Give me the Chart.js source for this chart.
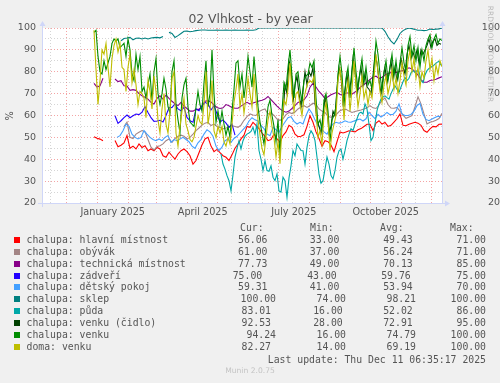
<!DOCTYPE html>
<html><head><meta charset="utf-8">
<script src="https://cdn.jsdelivr.net/npm/chart.js@4.4.1/dist/chart.umd.min.js"></script>
<style>
html,body{margin:0;padding:0;background:#F0F0F0;}
#wrap{position:relative;width:500px;height:383px;overflow:hidden;background:#F0F0F0;}
canvas{position:absolute;left:0;top:0;}
.m{position:absolute;white-space:pre;font-family:"DejaVu Sans Mono",monospace;font-size:9.8px;line-height:12px;height:12px;color:#555;}
.s{position:absolute;white-space:pre;font-family:"DejaVu Sans",sans-serif;color:#555;}
.sq{position:absolute;width:6px;height:6px;}
</style></head>
<body><div id="wrap"><canvas id="c" width="500" height="383"></canvas></div>
<script>
// ---------------- DATA (x = days since graph start, 400 days ending Thu Dec 11 2025 06:35:17) ----------------
const seriesNames = ["chalupa: hlavní místnost","chalupa: obývák","chalupa: technická místnost","chalupa: zádveří","chalupa: dětský pokoj","chalupa: sklep","chalupa: půda","chalupa: venku (čidlo)","chalupa: venku","doma: venku"];
const seriesColors = ["#FF0000","#A38585","#880088","#2200FF","#44A0FF","#008080","#00A8A8","#004000","#008C00","#BEBE00"];

const hlavni = [50.3,49.6,49.2,48.5,null,null,null,48.6,45.7,46.4,47.5,50.8,45,46,44.7,47,45.4,46.2,43.9,44.7,43.9,45.4,44.7,41.6,40.9,43.2,41.6,40.1,42.4,43.9,44.7,43.5,41.6,37.8,39.4,43,46.5,49.3,50,46,43.5,44.5,43,41.6,40.9,39.4,42,45,47,49.3,51,55,54.6,56.9,55.5,54,52,50.5,48.5,49,51.5,49.3,47.7,50.8,52.5,55.5,54.6,51.5,50.3,50.5,51.2,55,59.9,56.9,52.5,49.5,46,48.5,48,46.5,43.5,48,52.5,52,52.5,53,52.8,52.5,53.5,54,55,56,56,53.1,56.5,57.6,56.1,56.8,55,55.5,57,58.5,60.7,55.5,55.3,56,56.5,56.9,56.5,55.5,53.1,52.3,53.9,55,54.8,56,56.06];
const obyvak = [55,57,50,49.5,51.5,52.3,53.1,52.5,49,45.5,44.2,45.8,46.2,47,48.5,49.3,47.7,49.5,50.5,51,50.5,49.3,50,51.5,53.1,54.3,55.6,56.5,56.9,55.4,56.1,55,54.5,53.9,54.3,54.6,55.4,55,54.6,55.6,57.8,59.5,60.7,60.2,60,61.8,62.5,63,60.7,61.2,60,58.4,57.8,58.5,60.4,61.4,60.9,61.6,63,63.9,64.5,63.7,64.6,65.6,65,63,62,61.4,59.5,59.2,59.8,60.8,62.2,62.7,62.8,62,61.4,61.8,62.2,62.5,63,63.5,64.5,63.5,63.2,64.8,67,68,65,63.4,63.3,63.7,62,60.2,58.7,59.3,59.9,64,68.5,65.3,60.7,56.1,56.9,57.3,57.8,58.6,61];
const technicka = [74.7,73,73.6,77,null,null,null,76.7,75.5,75.9,73.6,73.5,71.5,71.8,71.5,70,69,68.3,67.5,66,65.3,67.8,69,67.5,69.3,67.8,66.5,65.3,64.5,66,64.2,63.2,62,62,62.8,62.8,64.2,66.5,66.8,66.2,64.8,63.7,63.2,63.5,65,64.5,63.7,63.3,63.3,64.3,65.2,66,65.3,65.7,66.2,66.6,67,67.5,68.7,67.3,65.8,64.3,63,62,61.5,62,63.2,64.5,66,66.5,67.2,69,72.9,74.8,73,71,69.5,67.8,68.6,69.5,70.1,70.6,69.6,69.3,70.3,70.3,69.8,70.7,71.8,73.2,74.2,75.2,76.5,77.6,78,76.9,77.5,78.5,79.2,79.6,79.7,79.7,80.2,80.6,81,81.8,81.3,80.1,78.5,76.3,75.2,75.2,76,76.2,76.6,77.2,77.73];
const zadveri = [59.9,56.4,57.6,59,60.2,59,59.9,60.7,60.4,61.5,64,61.4,59,57.3,57.5,57.8,57,60,63.5,63.7,65.3,63,62.2,63.7,59.1,57.6,56.9,63,62.2,64.5,66,65.3,62.5,64.5,60.7,57,58,56.5,54.6,56.1,51];
const detsky = [50,50.8,53,56.1,55,51.5,50,49.3,50,53.1,51.5,50,49,48.5,49.3,48.5,50,50.8,47.7,49,48.5,49.3,50,49,48,46,45,47.5,49,51.5,53.5,52.5,50.5,46,44,45.5,48.5,49.3,47.7,49.5,50.5,52,53.5,55,57.5,59,58,57.5,55.5,54,51.5,50.8,54.6,53.5,52.3,55,57,59,59.5,57.3,56.1,56.9,56.1,60,63,61,58,55.5,54,52.5,51.5,54,56.1,56.9,56.5,56.8,57.6,57,56.9,57.5,58,58.4,57.5,58.5,61.5,60,58.6,60.5,59.3,60.2,61.4,60.4,60.5,62,65.3,60.7,60,60,60.5,62,64.5,65.5,60.5,58.2,57.6,58.4,59.1,59.7,59.3];
const sklep = [94.2,95.2,95.4,95.7,94.6,95.3,95.4,95,95.4,95,95.4,95.6,95.7,95.5,96.1,null,98,97.5,95.7,96.5,97.5,98.5,98.6,98.3,98.5,98.8,99,99.1,99.1,99,99,99,99.1,99,99,99.1,99,99,99.1,99,99,99,99.1,99,99,99.2,
100,100,100,100,100,100,100,100,100,100,100,100,100,100,100,100,100,100,100,100,100,100,100,100,100,100,100,100,100,100,100,100,100,100,100,100,100,100,100,100,100,100,
98.5,96,94,92.7,94.8,97.5,98.8,99.5,100,99.7,99.3,99,99,98.8,99,99.5,99.3,99.5,99.6,100];
const puda = [42.4,37.8,35.5,32.5,30.2,25.6,33,41,45,48.5,44.7,48.5,50.5,51.5,52,52.7,54.6,51.5,56.1,44,40,34.8,39.4,34.8,34.5,37,31.8,30.2,33.3,25.5,25,31.8,30.2,22.6,31.5,37,43.9,41.6,47,45.5,44,43.9,37.8,45.4,50.7,53,51.5,48.5,40.9,33.3,29,30.2,35.5,41,37.8,32.5,31,34.8,40.9,43.9,44.7,40,43.9,48.5,51.5,54,53.1,56.1,58.5,61,61.5,60.7,65.3,63,56,48.5,50,56.1,62.2,65.3,67.5,68.5,69,68.2,67.5,70,72,73.6,72,70.6,73,75.4,77.4,76,77,79.5,80.5,79.7,80.5,80,76,75,78.5,80.5,81.5,82.2,82.6,83.5,84.3,84.8,83];
const venkuCidlo = [60,74,70,85,82,66,74,78,70,64,72,80,74,80,78,82,66,58,55,52,60,68,64,52,55,62,60,72,82,78,66,72,79,70,76,86,80,70,77,82,74,79,73,72,70,78,88,84,76,70,77,82,75,79,85,77,82,76,80,86,82,79,88,92,86,89,86,90,84,90,88,90,92,95,91,94,95,92,93,92.53];
const venku = [98,99,87,80,79,85,81,84,87,93,95,94,95,91,92,93,87,95,90,79,76,88,81,87,71,73,68,74,79,67,80,86,70,65,70,77,72,64,61,80,85,65,58,52,68,74,77,64,57,56,55,64,71,65,62,75,85,64,
70,90,70,57,62,56,62,56,51,55,50,62,72,84,85,73,79,68,76,87,80,73,87,76,64,57,52,47,55,64,67,60,55,48,58,42,62,75,72,82,90,78,68,79,80,72,66,76,78,79,84,82,85,68,56,58,53,
67,70,62,48,58,60,64,79,87,79,64,77,82,68,80,91,80,72,80,86,75,82,74,76,72,81,94,88,79,71,80,85,76,82,88,78,85,77,84,91,84,80,92,96,87,92,85,91,82,90,85,92,95,97,91,95,97,93,95,94.24];
const domaVenku = [99,81,65,76,90,88,93,82,73,86,92,95,89,93,82,81,71,82,88,75,81,74,65,71,70,68,59,76,71,63,78,71,58,52,63,70,56,52,62,77,80,52,46,55,62,68,56,53,49,48,50,55,60,57,56,65,80,56,
62,76,53,50,55,52,55,48,46,50,47,56,66,72,79,64,70,61,68,77,70,64,79,68,58,51,45,42,50,58,62,55,50,41,48,38,55,67,65,72,84,70,62,70,71,65,60,68,72,75,76,75,78,62,50,53,47,
60,66,58,44,52,56,60,76,81,74,58,70,76,62,72,85,74,64,70,78,68,72,65,71,68,77,88,80,71,66,74,78,70,74,81,72,77,70,76,84,78,74,85,90,80,86,77,82,73,80,77,85,90,81,86,76,83,79,85,82.27];

const seriesValues = [hlavni, obyvak, technicka, zadveri, detsky, sklep, puda, venkuCidlo, venku, domaVenku];
const seriesStartDay = [52, 82, 52, 73, 75, 79, 179, 241, 52, 52];
const seriesStepDays = [3, 3, 3, 3, 3, 3, 2, 2, 2, 2];

const curText = ["56.06","61.00","77.73","75.00","59.31","100.00","83.01","92.53","94.24","82.27"];
const minText = ["33.00","37.00","49.00","43.00","41.00","74.00","16.00","28.00","16.00","14.00"];
const avgText = ["49.43","56.24","70.13","59.76","53.94","98.21","52.02","72.91","74.79","69.19"];
const maxText = ["71.00","71.00","85.00","75.00","70.00","100.00","86.00","95.00","100.00","100.00"];

const yTicks = [20, 30, 40, 50, 60, 70, 80, 90, 100];
const xTickLabels = ["January 2025", "April 2025", "July 2025", "October 2025"];
const xLabelMonths = [[2025, 0], [2025, 3], [2025, 6], [2025, 9]];
const GRAPH_END_MS = Date.UTC(2025, 11, 11, 5, 35, 17);
const GRAPH_DAYS = 400;

// ---------------- LAYOUT ----------------
const START_MS = GRAPH_END_MS - GRAPH_DAYS * 86400000;
function dayOfDate(y, m, d) { return (Date.UTC(y, m, d) - 3600000 - START_MS) / 86400000; }
const MAJOR = 'rgba(235,90,90,0.55)';
const MINOR = 'rgba(150,150,150,0.40)';
const AXIS = '#CFD6F8';

const xTickDefs = [];
for (let k = 0; k < 14; k++) {
  const y = 2024 + Math.floor((10 + k) / 12), m = (10 + k) % 12;
  const d1 = dayOfDate(y, m, 1);
  if (d1 >= 0 && d1 <= GRAPH_DAYS) xTickDefs.push({value: d1, kind: 'major', label: ''});
  const d15 = dayOfDate(y, m, 15);
  if (d15 >= 0 && d15 <= GRAPH_DAYS) xTickDefs.push({value: d15, kind: 'minor', label: ''});
}
xLabelMonths.forEach((lm, i) => xTickDefs.push({value: dayOfDate(lm[0], lm[1], 16), kind: 'label', label: xTickLabels[i]}));
xTickDefs.sort((a, b) => a.value - b.value);

const N = seriesNames.length;
const datasets = seriesValues.map((vals, i) => ({
  label: seriesNames[i],
  data: vals.map((v, j) => ({x: seriesStartDay[i] + j * seriesStepDays[i], y: v})),
  borderColor: seriesColors[i],
  backgroundColor: seriesColors[i],
  borderWidth: 1.1,
  pointRadius: 0,
  tension: 0,
  spanGaps: false,
  fill: false,
  order: N - 1 - i
}));

const framePlugin = {
  id: 'frame',
  beforeDraw(c) {
    const {ctx, chartArea: a} = c;
    ctx.save(); ctx.fillStyle = '#FFFFFF';
    ctx.fillRect(a.left, a.top, a.right - a.left, a.bottom - a.top);
    ctx.restore();
  },
  afterDraw(c) {
    const {ctx, chartArea: a} = c;
    ctx.save();
    ctx.strokeStyle = AXIS; ctx.fillStyle = AXIS; ctx.lineWidth = 1;
    const lx = Math.round(a.left) + 0.5, rx = Math.round(a.right) + 0.5, by = Math.round(a.bottom) + 0.5;
    ctx.beginPath();
    ctx.moveTo(lx, a.bottom + 4); ctx.lineTo(lx, a.top - 2);
    ctx.moveTo(rx, a.bottom); ctx.lineTo(rx, a.top - 2);
    ctx.moveTo(a.left - 4, by); ctx.lineTo(a.right + 3, by);
    ctx.stroke();
    const tri = (p) => { ctx.beginPath(); ctx.moveTo(p[0], p[1]); ctx.lineTo(p[2], p[3]); ctx.lineTo(p[4], p[5]); ctx.closePath(); ctx.fill(); };
    tri([lx - 3, a.top - 2, lx + 3, a.top - 2, lx, a.top - 7]);
    tri([rx - 3, a.top - 2, rx + 3, a.top - 2, rx, a.top - 7]);
    tri([a.right + 3, by - 3, a.right + 3, by + 3, a.right + 8, by]);
    ctx.restore();
  }
};

const yGridColor = (ctx) => (ctx.tick && Math.round(ctx.tick.value) % 10 === 0) ? MAJOR : MINOR;

new Chart(document.getElementById('c'), {
  type: 'line',
  data: {datasets},
  options: {
    responsive: false, animation: false, events: [],
    layout: {padding: {top: 28, left: 0, right: 0, bottom: 0}},
    plugins: {legend: {display: false}, tooltip: {enabled: false}, title: {display: false}},
    scales: {
      x: {
        type: 'linear', min: 0, max: GRAPH_DAYS,
        afterFit(s) { s.height = 180; },
        afterBuildTicks(s) { s.ticks = xTickDefs.map(t => ({value: t.value})); },
        ticks: {
          autoSkip: false, maxRotation: 0, minRotation: 0, padding: 4,
          color: '#555', font: {family: 'DejaVu Sans', size: 9.7},
          callback: (v, i) => (xTickDefs[i] ? xTickDefs[i].label : '')
        },
        grid: {
          drawTicks: false, lineWidth: 1,
          color: (ctx) => { const t = xTickDefs[ctx.index]; if (!t) return 'rgba(0,0,0,0)'; return t.kind === 'major' ? MAJOR : (t.kind === 'minor' ? MINOR : 'rgba(0,0,0,0)'); }
        },
        border: {display: false, dash: [1, 2]}
      },
      y: {
        type: 'linear', position: 'left', min: 20, max: 100,
        afterFit(s) { s.width = 42; },
        afterBuildTicks(s) { const t = []; for (let v = 20; v <= 100; v += 5) t.push({value: v}); s.ticks = t; },
        ticks: {autoSkip: false, padding: 6, color: '#555', font: {family: 'DejaVu Sans', size: 9.5},
          callback: (v) => (yTicks.includes(v) ? String(v) : '')},
        grid: {drawTicks: false, lineWidth: 1, color: yGridColor},
        border: {display: false, dash: [1, 2]}
      },
      y2: {
        type: 'linear', position: 'right', min: 20, max: 100,
        afterFit(s) { s.width = 58; },
        afterBuildTicks(s) { s.ticks = yTicks.map(v => ({value: v})); },
        ticks: {autoSkip: false, padding: 14, crossAlign: 'far', color: '#555', font: {family: 'DejaVu Sans', size: 9.5},
          callback: (v) => String(v)},
        grid: {display: false, drawTicks: false},
        border: {display: false}
      }
    }
  },
  plugins: [framePlugin]
});

// ---------------- TEXT OVERLAY ----------------
const wrap = document.getElementById('wrap');
function addDiv(cls, txt, style) { const d = document.createElement('div'); d.className = cls; if (txt !== null) d.textContent = txt; Object.assign(d.style, style); wrap.appendChild(d); return d; }

addDiv('s', '02 Vlhkost - by year', {left: '0px', width: '501px', textAlign: 'center', top: '11px', fontSize: '12.4px', lineHeight: '16px'});
addDiv('s', '%', {left: '-10px', width: '40px', textAlign: 'center', top: '109.5px', fontSize: '9.7px', lineHeight: '12px', transform: 'rotate(-90deg)'});
addDiv('s', 'RRDTOOL / TOBI OETIKER', {left: '430px', width: '120px', textAlign: 'center', top: '48.5px', fontSize: '7.5px', lineHeight: '10px', color: '#bdbdbd', transform: 'rotate(90deg)'});
addDiv('s', 'Munin 2.0.75', {left: '200px', width: '100px', textAlign: 'center', top: '366px', fontSize: '7.6px', lineHeight: '10px', color: '#c4c4c4'});

const ROW0 = 240, ROWH = 11.85;
const curRight = [267.5, 267.5, 267.5, 262.2, 267.5, 276, 271, 271, 276, 271];
const minRight = [339.3, 339.3, 339.3, 336.7, 339.3, 346, 342.7, 342.7, 346, 346];
const avgRight = [412.7, 412.7, 412.7, 410.7, 412.7, 416, 412.7, 412.7, 416, 416];
const maxRight = [486, 486, 486, 486, 486, 486, 486, 486, 486, 486];

addDiv('m', 'Cur:', {left: '240px', top: (228 - 6) + 'px'});
addDiv('m', 'Min:', {left: '310px', top: (228 - 6) + 'px'});
addDiv('m', 'Avg:', {left: '380px', top: (228 - 6) + 'px'});
addDiv('m', 'Max:', {left: '450px', top: (228 - 6) + 'px'});

seriesNames.forEach((name, i) => {
  const yc = ROW0 + i * ROWH;
  addDiv('sq', null, {left: '14px', top: (yc - 3) + 'px', background: seriesColors[i]});
  addDiv('m', name, {left: '26.5px', top: (yc - 6) + 'px'});
  addDiv('m', curText[i], {right: (500 - curRight[i]) + 'px', top: (yc - 6) + 'px', textAlign: 'right'});
  addDiv('m', minText[i], {right: (500 - minRight[i]) + 'px', top: (yc - 6) + 'px', textAlign: 'right'});
  addDiv('m', avgText[i], {right: (500 - avgRight[i]) + 'px', top: (yc - 6) + 'px', textAlign: 'right'});
  addDiv('m', maxText[i], {right: (500 - maxRight[i]) + 'px', top: (yc - 6) + 'px', textAlign: 'right'});
});
addDiv('m', 'Last update: Thu Dec 11 06:35:17 2025', {right: '14px', top: (360 - 6) + 'px', textAlign: 'right'});
</script>
</body></html>
